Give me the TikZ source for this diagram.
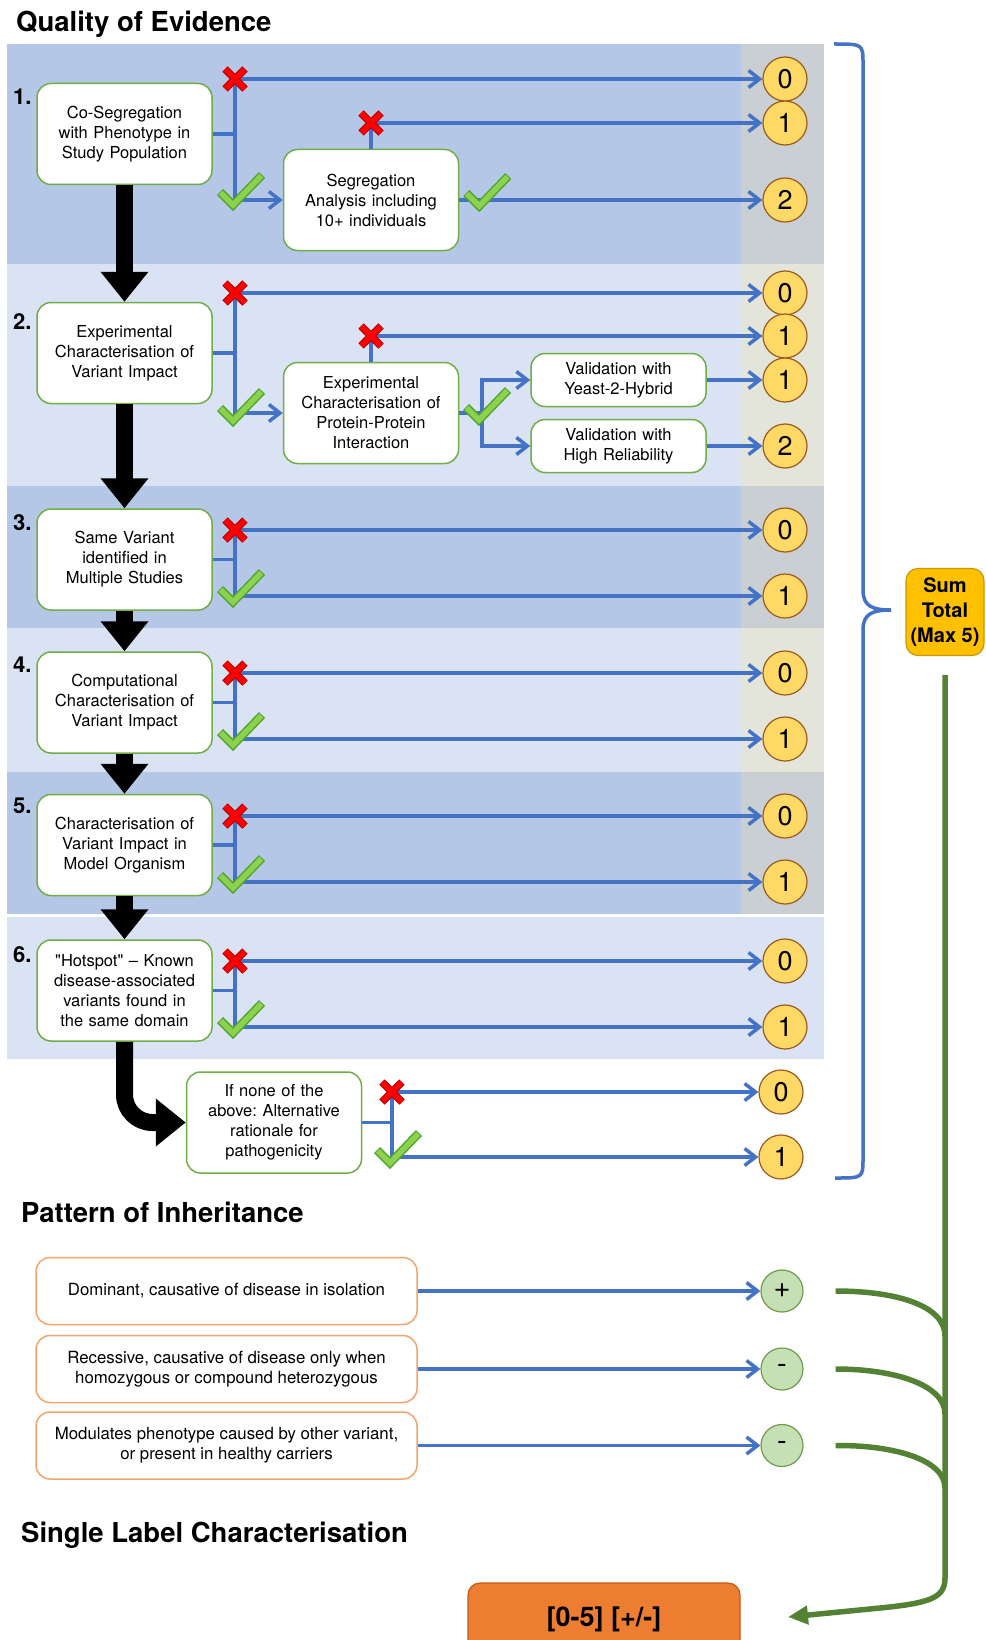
\documentclass[tikz,border=0pt]{standalone}
\usepackage{fontspec}
\setmainfont{TeX Gyre Heros}[Ligatures=TeXOff]
\frenchspacing
\usetikzlibrary{arrows.meta}
\definecolor{banddark}{HTML}{B4C7E7}
\definecolor{bandlight}{HTML}{DAE3F3}
\definecolor{coldark}{HTML}{C9CFD2}
\definecolor{collight}{HTML}{E3E5DA}
\definecolor{flowblue}{HTML}{4472C4}
\definecolor{stagegreen}{HTML}{70AD47}
\definecolor{scorefill}{HTML}{FFD966}
\definecolor{scoreedge}{HTML}{9C5A1E}
\definecolor{signfill}{HTML}{C5E0B4}
\definecolor{signedge}{HTML}{6E9B4C}
\definecolor{sumgold}{HTML}{FFC000}
\definecolor{sumedge}{HTML}{C99700}
\definecolor{finalorange}{HTML}{ED7D31}
\definecolor{finaledge}{HTML}{C55A11}
\definecolor{patternedge}{HTML}{F4A46A}
\definecolor{linkgreen}{HTML}{548235}
\definecolor{tickfill}{HTML}{8ED14F}
\definecolor{tickedge}{HTML}{4EA72E}
\tikzstyle{stage}=[rectangle,rounded corners=14pt,draw=stagegreen,line width=1.5pt,fill=white,minimum width=175pt,minimum height=101pt,text width=168pt,inner sep=0pt,align=center,font=\fontsize{16.5}{20}\selectfont]
\tikzstyle{test}=[stage,minimum height=53pt]
\tikzstyle{pattern}=[rectangle,rounded corners=14pt,draw=patternedge,line width=1.5pt,fill=white,minimum width=381pt,minimum height=67pt,inner sep=0pt,align=center,font=\fontsize{16.8}{20}\selectfont]
\tikzstyle{score}=[shape=circle,draw=scoreedge,line width=1.2pt,fill=scorefill,minimum size=44pt,inner sep=0pt,font=\fontsize{27}{27}\selectfont]
\tikzstyle{sign}=[shape=circle,draw=signedge,line width=1.2pt,fill=signfill,minimum size=42pt,inner sep=0pt,font=\fontsize{29}{29}\selectfont]
\tikzstyle{sumbox}=[rectangle,rounded corners=12pt,draw=sumedge,line width=1.2pt,fill=sumgold,minimum width=78pt,minimum height=87pt,inner sep=0pt,align=center,font=\bfseries\fontsize{20}{25}\selectfont]
\tikzstyle{finalbox}=[rectangle,rounded corners=12pt,draw=finaledge,line width=1.2pt,fill=finalorange,minimum width=272pt,minimum height=72pt,inner sep=0pt,font=\bfseries\fontsize{27}{27}\selectfont]
\tikzstyle{heading}=[anchor=base west,inner sep=0pt,font=\bfseries\fontsize{27.5}{27.5}\selectfont]
\tikzstyle{number}=[anchor=west,inner sep=0pt,font=\bfseries\fontsize{22}{22}\selectfont]
\tikzstyle{flow}=[draw=flowblue,line width=3.5pt]
\tikzstyle{stem}=[flow,line cap=rect]
\tikzstyle{flowarrow}=[flow,-{Straight Barb[length=11pt,width=17pt]}]
\tikzstyle{bigarrow}=[draw=black,line width=17pt,-{Triangle[length=30pt,width=46pt]}]
\tikzstyle{bracket}=[draw=flowblue,line width=3.5pt]
\tikzstyle{link}=[draw=linkgreen,line width=5.5pt]
\tikzset{
  nomark/.pic={
    \draw[line width=7.5pt,draw=red!75!black] (-10,-10) -- (10,10) (-10,10) -- (10,-10);
    \draw[line width=5pt,draw=red,shorten <=0.8pt,shorten >=0.8pt] (-10,-10) -- (10,10) (-10,10) -- (10,-10);
  },
  yesmark/.pic={
    \draw[line width=8.5pt,draw=tickedge,line join=miter] (-13,-13) -- (0,0) -- (29,-30);
    \draw[line width=5.5pt,draw=tickfill,line join=miter,shorten <=1pt,shorten >=1pt] (-13,-13) -- (0,0) -- (29,-30);
  }
}
\begin{document}
\begin{tikzpicture}[x=1pt,y=-1pt]
		\useasboundingbox (0,0) rectangle (985,1640);

		% bands
		\fill[banddark] (7,44) rectangle (824,264);
		\fill[coldark] (741,44) rectangle (824,264);
		\fill[bandlight] (7,264) rectangle (824,486);
		\fill[collight] (741,264) rectangle (824,486);
		\fill[banddark] (7,486) rectangle (824,628);
		\fill[coldark] (741,486) rectangle (824,628);
		\fill[bandlight] (7,628) rectangle (824,772);
		\fill[collight] (741,628) rectangle (824,772);
		\fill[banddark] (7,772) rectangle (824,914);
		\fill[coldark] (741,772) rectangle (824,914);
		\fill[bandlight] (7,917) rectangle (824,1059);

		% headings
		\node[heading] (quality) at (16,32) {Quality of Evidence};
		\node[heading] (inheritance) at (21,1222) {Pattern of Inheritance};
		\node[heading] (single) at (21,1542) {Single Label Characterisation};

		% evidence stages
		\node[number] (num1) at (13,97) {1.};
		\node[stage] (cosegregation) at (124.5,134) {Co-Segregation\\with Phenotype in\\Study Population};
		\node[stage] (segregation) at (371,200) {Segregation\\Analysis including\\10+ individuals};
		\node[number] (num2) at (13,322) {2.};
		\node[stage] (experimental) at (124.5,353) {Experimental\\Characterisation of\\Variant Impact};
		\node[stage] (interaction) at (371,413) {Experimental\\Characterisation of\\Protein-Protein\\Interaction};
		\node[test] (yeast) at (618.5,380) {Validation with\\Yeast-2-Hybrid};
		\node[test] (reliability) at (618.5,446) {Validation with\\High Reliability};
		\node[number] (num3) at (13,523) {3.};
		\node[stage] (samevariant) at (124.5,559.5) {Same Variant\\identified in\\Multiple Studies};
		\node[number] (num4) at (13,665) {4.};
		\node[stage] (computational) at (124.5,702.5) {Computational\\Characterisation of\\Variant Impact};
		\node[number] (num5) at (13,806) {5.};
		\node[stage] (organism) at (124.5,845) {Characterisation of\\Variant Impact in\\Model Organism};
		\node[number] (num6) at (13,955) {6.};
		\node[stage] (hotspot) at (124.5,990.5) {"Hotspot" – Known\\disease-associated\\variants found in\\the same domain};
		\node[stage] (alternative) at (274,1122.5) {If none of the\\above: Alternative\\rationale for\\pathogenicity};

		% scores
		\node[score] (s10) at (785,79) {0};
		\node[score] (s11) at (785,123) {1};
		\node[score] (s12) at (785,200) {2};
		\node[score] (s20) at (785,293) {0};
		\node[score] (s21) at (785,336) {1};
		\node[score] (s22) at (785,380) {1};
		\node[score] (s23) at (785,446) {2};
		\node[score] (s30) at (785,530) {0};
		\node[score] (s31) at (785,596) {1};
		\node[score] (s40) at (785,673) {0};
		\node[score] (s41) at (785,739) {1};
		\node[score] (s50) at (785,816) {0};
		\node[score] (s51) at (785,882) {1};
		\node[score] (s60) at (785,961) {0};
		\node[score] (s61) at (785,1027) {1};
		\node[score] (s70) at (781,1092) {0};
		\node[score] (s71) at (781,1157) {1};

		% stage flow
		\draw[bigarrow] (cosegregation) -- (experimental);
		\draw[bigarrow] (experimental) -- (samevariant);
		\draw[bigarrow] (samevariant) -- (computational);
		\draw[bigarrow] (computational) -- (organism);
		\draw[bigarrow] (organism) -- (hotspot);
		\draw[bigarrow,rounded corners=28pt] (hotspot.south) |- (alternative.west);

		% branches
		\coordinate (x1) at (235,79);
		\coordinate (y1) at (235,200);
		\coordinate (x1b) at (371,123);
		\draw[flow] (cosegregation.east) -- (cosegregation.east -| x1);
		\draw[stem] (x1) -- (y1);
		\draw[flowarrow] (x1) -- (s10);
		\draw[flowarrow] (y1) -- (segregation);
		\draw[flow] (segregation.north) -- (x1b);
		\draw[flowarrow] (x1b) -- (s11);
		\draw[flowarrow] (segregation) -- (s12);

		\coordinate (x2) at (235,293);
		\coordinate (y2) at (235,413);
		\coordinate (x2b) at (371,336);
		\coordinate (split) at (482,413);
		\draw[flow] (experimental.east) -- (experimental.east -| x2);
		\draw[stem] (x2) -- (y2);
		\draw[flowarrow] (x2) -- (s20);
		\draw[flowarrow] (y2) -- (interaction);
		\draw[flow] (interaction.north) -- (x2b);
		\draw[flowarrow] (x2b) -- (s21);
		\draw[flow] (interaction.east) -- (split);
		\draw[flowarrow] (split) |- (yeast);
		\draw[flowarrow] (split) |- (reliability);
		\draw[flowarrow] (yeast) -- (s22);
		\draw[flowarrow] (reliability) -- (s23);

		\coordinate (x3) at (235,530);
		\coordinate (y3) at (235,596);
		\draw[flow] (samevariant.east) -- (samevariant.east -| x3);
		\draw[stem] (x3) -- (y3);
		\draw[flowarrow] (x3) -- (s30);
		\draw[flowarrow] (y3) -- (s31);

		\coordinate (x4) at (235,673);
		\coordinate (y4) at (235,739);
		\draw[flow] (computational.east) -- (computational.east -| x4);
		\draw[stem] (x4) -- (y4);
		\draw[flowarrow] (x4) -- (s40);
		\draw[flowarrow] (y4) -- (s41);

		\coordinate (x5) at (235,816);
		\coordinate (y5) at (235,882);
		\draw[flow] (organism.east) -- (organism.east -| x5);
		\draw[stem] (x5) -- (y5);
		\draw[flowarrow] (x5) -- (s50);
		\draw[flowarrow] (y5) -- (s51);

		\coordinate (x6) at (235,961);
		\coordinate (y6) at (235,1027);
		\draw[flow] (hotspot.east) -- (hotspot.east -| x6);
		\draw[stem] (x6) -- (y6);
		\draw[flowarrow] (x6) -- (s60);
		\draw[flowarrow] (y6) -- (s61);

		\coordinate (x7) at (392,1092);
		\coordinate (y7) at (392,1157);
		\draw[flow] (alternative.east) -- (alternative.east -| x7);
		\draw[stem] (x7) -- (y7);
		\draw[flowarrow] (x7) -- (s70);
		\draw[flowarrow] (y7) -- (s71);

		% marks
		\pic at (x1) {nomark};
		\pic at ([shift={(-2,5)}]y1) {yesmark};
		\pic at (x1b) {nomark};
		\pic at ([shift={(20,6)}]segregation.east) {yesmark};
		\pic at (x2) {nomark};
		\pic at ([shift={(-2,8)}]y2) {yesmark};
		\pic at (x2b) {nomark};
		\pic at ([shift={(-3,7)}]split) {yesmark};
		\pic at (x3) {nomark};
		\pic at ([shift={(-2,6)}]y3) {yesmark};
		\pic at (x4) {nomark};
		\pic at ([shift={(-2,6)}]y4) {yesmark};
		\pic at (x5) {nomark};
		\pic at ([shift={(-2,6)}]y5) {yesmark};
		\pic at (x6) {nomark};
		\pic at ([shift={(-2,6)}]y6) {yesmark};
		\pic at (x7) {nomark};
		\pic at ([shift={(-2,6)}]y7) {yesmark};

		% sum total
		\node[sumbox] (sum) at (945,612) {Sum\\Total\\(Max 5)};
		\draw[bracket] (834,44) .. controls (863,44) .. (863,64) -- (863,590)
			.. controls (863,606) and (872,610) .. (891,610);
		\draw[bracket] (891,610) .. controls (872,610) and (863,614) .. (863,630)
			-- (863,1158) .. controls (863,1178) .. (835,1178);

		% inheritance
		\node[pattern] (dominant) at (226.5,1291) {Dominant, causative of disease in isolation};
		\node[pattern] (recessive) at (226.5,1369) {Recessive, causative of disease only when\\homozygous or compound heterozygous};
		\node[pattern] (modulates) at (226.5,1445.5) {Modulates phenotype caused by other variant,\\or present in healthy carriers};
		\node[sign] (plus) at (782,1291) {+};
		\node[sign] (minusa) at (782,1369) {-};
		\node[sign] (minusb) at (782,1445.5) {-};
		\draw[flowarrow] (dominant) -- (plus);
		\draw[flowarrow] (recessive) -- (minusa);
		\draw[flowarrow] (modulates) -- (minusb);

		% single label
		\node[finalbox] (label) at (604,1619) {[0-5] [+/-]};
		\coordinate (m1) at (945,1336);
		\coordinate (m2) at (945,1414);
		\coordinate (m3) at (945,1488);
		\coordinate (gend) at (788,1617);
		\draw[link,-{Triangle[length=20pt,width=18pt]}] ([yshift=-19pt]sum.south) -- (945,1578)
			.. controls (945,1598) and (930,1603) .. (880,1608) -- (gend);
		\draw[link] ([xshift=32pt]plus.east) .. controls (895,1291) and (945,1305) .. (m1);
		\draw[link] ([xshift=32pt]minusa.east) .. controls (895,1369) and (945,1385) .. (m2);
		\draw[link] ([xshift=32pt]minusb.east) .. controls (895,1445) and (945,1460) .. (m3);

\end{tikzpicture}
\end{document}
